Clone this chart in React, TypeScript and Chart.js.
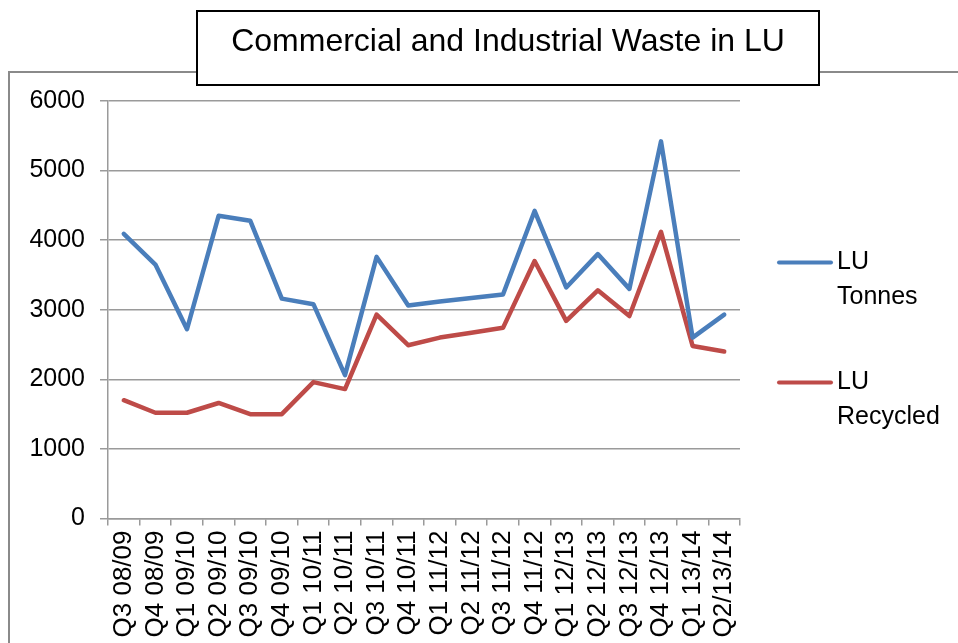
import { useEffect, useRef } from 'react';
import { Chart, registerables } from 'chart.js';

Chart.register(...registerables);

const categories = [
  'Q3 08/09', 'Q4 08/09', 'Q1 09/10', 'Q2 09/10', 'Q3 09/10', 'Q4 09/10',
  'Q1 10/11', 'Q2 10/11', 'Q3 10/11', 'Q4 10/11', 'Q1 11/12', 'Q2 11/12',
  'Q3 11/12', 'Q4 11/12', 'Q1 12/13', 'Q2 12/13', 'Q3 12/13', 'Q4 12/13',
  'Q1 13/14', 'Q2/13/14',
];
const tonnes = [4090, 3650, 2720, 4350, 4280, 3160, 3080, 2060, 3760, 3060, 3120, 3170, 3220, 4420, 3320, 3800, 3300, 5420, 2600, 2930];
const recycled = [1700, 1520, 1520, 1660, 1500, 1500, 1960, 1860, 2930, 2490, 2600, 2670, 2740, 3700, 2840, 3280, 2910, 4120, 2480, 2400];
const seriesNames = ['LU Tonnes', 'LU Recycled'];
const seriesColors = ['#4A7EBB', '#BE4B48'];
const titleText = 'Commercial and Industrial Waste in LU';
const yMin = 0;
const yMax = 6000;
const yStep = 1000;

const FONT = '"Liberation Sans", Arial, sans-serif';
const GRID = '#9a9a9a';

const deco = {
  id: 'deco',
  beforeDraw(chart: any) {
    const ctx = chart.ctx as CanvasRenderingContext2D;
    ctx.save();
    ctx.fillStyle = '#ffffff';
    ctx.fillRect(0, 0, chart.width, chart.height);
    // outer frame
    ctx.strokeStyle = '#8a8a8a';
    ctx.lineWidth = 2;
    ctx.strokeRect(9, 72, 2000, 2000);
    // title box
    ctx.fillStyle = '#ffffff';
    ctx.fillRect(197, 11, 622, 74);
    ctx.strokeStyle = '#000000';
    ctx.lineWidth = 2;
    ctx.strokeRect(197, 11, 622, 74);
    ctx.fillStyle = '#000000';
    ctx.font = `32px ${FONT}`;
    ctx.textAlign = 'center';
    ctx.textBaseline = 'alphabetic';
    ctx.fillText(titleText, 508, 51);
    ctx.restore();
  },
  afterDraw(chart: any) {
    const ctx = chart.ctx as CanvasRenderingContext2D;
    ctx.save();
    chart.data.datasets.forEach((ds: any, i: number) => {
      const y0 = 262.5 + 120 * i;
      ctx.strokeStyle = ds.borderColor;
      ctx.lineWidth = 4;
      ctx.lineCap = 'round';
      ctx.beginPath();
      ctx.moveTo(779, y0);
      ctx.lineTo(831, y0);
      ctx.stroke();
      ctx.fillStyle = '#000000';
      ctx.font = `25px ${FONT}`;
      ctx.textAlign = 'left';
      ctx.textBaseline = 'alphabetic';
      const words = String(ds.label).split(' ');
      words.forEach((w, j) => {
        ctx.fillText(w, 837, y0 + 6 + 35 * j);
      });
    });
    ctx.restore();
  },
};

export default function App() {
  const ref = useRef<HTMLCanvasElement>(null);
  useEffect(() => {
    const chart = new Chart(ref.current!, {
      type: 'line',
      data: {
        labels: categories,
        datasets: [
          {
            label: seriesNames[0],
            data: tonnes,
            borderColor: seriesColors[0],
            backgroundColor: seriesColors[0],
            borderWidth: 4.5,
            pointRadius: 0,
            tension: 0,
            fill: false,
            borderJoinStyle: 'round',
            borderCapStyle: 'round',
          },
          {
            label: seriesNames[1],
            data: recycled,
            borderColor: seriesColors[1],
            backgroundColor: seriesColors[1],
            borderWidth: 4.5,
            pointRadius: 0,
            tension: 0,
            fill: false,
            borderJoinStyle: 'round',
            borderCapStyle: 'round',
          },
        ],
      },
      options: {
        responsive: false,
        animation: false,
        devicePixelRatio: 1,
        layout: { padding: { top: 101, right: 218, bottom: 0, left: 0 } },
        plugins: {
          legend: { display: false },
          title: { display: false },
          tooltip: { enabled: false },
        },
        scales: {
          x: {
            offset: true,
            grid: {
              offset: true,
              drawOnChartArea: false,
              drawTicks: true,
              tickLength: 7,
              color: GRID,
              lineWidth: 1.5,
            },
            border: { color: GRID, width: 1.5 },
            ticks: {
              autoSkip: false,
              minRotation: 90,
              maxRotation: 90,
              padding: 5,
              color: '#000000',
              font: { family: FONT, size: 26 },
            },
            afterFit: (s: any) => {
              s.height = 124.5;
            },
          },
          y: {
            min: yMin,
            max: yMax,
            ticks: {
              stepSize: yStep,
              padding: 15,
              color: '#000000',
              font: { family: FONT, size: 25 },
              callback: (v: any) => String(v),
            },
            grid: { color: GRID, lineWidth: 1.5, tickLength: 8 },
            border: { color: GRID, width: 1.5 },
            afterFit: (s: any) => {
              s.width = 108;
            },
          },
        },
      },
      plugins: [deco],
    });
    return () => chart.destroy();
  }, []);
  return (
    <canvas
      ref={ref}
      width={958}
      height={643}
      style={{ position: 'absolute', left: 0, top: 0, width: 958, height: 643 }}
    />
  );
}
